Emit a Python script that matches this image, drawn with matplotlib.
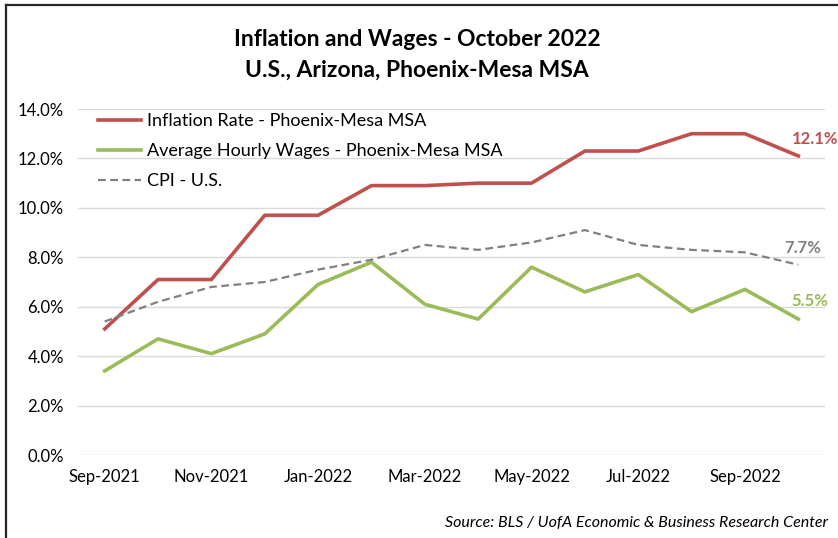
import numpy as np
import matplotlib.pyplot as plt
from matplotlib.ticker import FuncFormatter
from matplotlib.lines import Line2D

plt.rcParams['font.family'] = ['Lato', 'DejaVu Sans']

# data
months = ["Sep-2021", "Oct-2021", "Nov-2021", "Dec-2021", "Jan-2022", "Feb-2022", "Mar-2022",
          "Apr-2022", "May-2022", "Jun-2022", "Jul-2022", "Aug-2022", "Sep-2022", "Oct-2022"]
inflation_phx = [5.1, 7.1, 7.1, 9.7, 9.7, 10.9, 10.9, 11.0, 11.0, 12.3, 12.3, 13.0, 13.0, 12.1]
wages_phx = [3.4, 4.7, 4.1, 4.9, 6.9, 7.8, 6.1, 5.5, 7.6, 6.6, 7.3, 5.8, 6.7, 5.5]
cpi_us = [5.4, 6.2, 6.8, 7.0, 7.5, 7.9, 8.5, 8.3, 8.6, 9.1, 8.5, 8.3, 8.2, 7.7]

red = "#C0504D"
green = "#9BBB59"
gray = "#808080"

fig = plt.figure(figsize=(8.38, 5.38), dpi=100)
ax = fig.add_axes([78/838, 1-455/538, 747/838, 346/538])

x = np.arange(len(months))
ax.plot(x, inflation_phx, color=red, lw=2.6, label="Inflation Rate - Phoenix-Mesa MSA")
ax.plot(x, wages_phx, color=green, lw=2.6, label="Average Hourly Wages - Phoenix-Mesa MSA")
ax.plot(x, cpi_us, color=gray, lw=1.6, ls=(0, (3.5, 2)), label="CPI - U.S.")

# end labels
ax.annotate(f"{inflation_phx[-1]:.1f}%", (x[-1], inflation_phx[-1]), xytext=(12, 12),
            textcoords="offset points", color=red, fontsize=12, fontweight="bold", ha="center", va="center")
ax.annotate(f"{cpi_us[-1]:.1f}%", (x[-1], cpi_us[-1]), xytext=(3, 12),
            textcoords="offset points", color=gray, fontsize=12, fontweight="bold", ha="center", va="center")
ax.annotate(f"{wages_phx[-1]:.1f}%", (x[-1], wages_phx[-1]), xytext=(8, 13),
            textcoords="offset points", color=green, fontsize=12, fontweight="bold", ha="center", va="center")

ax.set_xlim(-0.5, 13.5)
ax.set_ylim(0, 14)
ax.set_yticks(np.arange(0, 14.1, 2))
ax.yaxis.set_major_formatter(FuncFormatter(lambda v, p: f"{v:.1f}%"))
ax.set_xticks(x[::2])
ax.set_xticklabels(months[::2])
ax.tick_params(axis="both", length=0, labelsize=12, colors="black")
ax.tick_params(axis="x", pad=10)
ax.tick_params(axis="y", pad=10)
ax.grid(axis="y", color="#D9D9D9", lw=1)
ax.set_axisbelow(True)
for s in ax.spines.values():
    s.set_visible(False)

leg = ax.legend(loc="upper left", bbox_to_anchor=(0.012, 1.02), frameon=False, fontsize=13,
                handlelength=2.4, handletextpad=0.3, labelspacing=0.78, borderaxespad=0.2)

fig.text(417/838, 1-39/538, "Inflation and Wages - October 2022", ha="center", va="center",
         fontsize=16.5, fontweight="bold")
fig.text(417/838, 1-70/538, "U.S., Arizona, Phoenix-Mesa MSA", ha="center", va="center",
         fontsize=16.5, fontweight="bold")
fig.text(828/838, 1-523/538, "Source: BLS / UofA Economic & Business Research Center", ha="right",
         va="center", fontsize=11.5, style="italic")

# top and left border lines
fig.add_artist(Line2D([6/838, 1], [1-5/538, 1-5/538], transform=fig.transFigure, color="#262626", lw=1.6))
fig.add_artist(Line2D([6/838, 6/838], [0, 1-5/538], transform=fig.transFigure, color="#262626", lw=1.6))

fig.savefig("out.png", dpi=100)
